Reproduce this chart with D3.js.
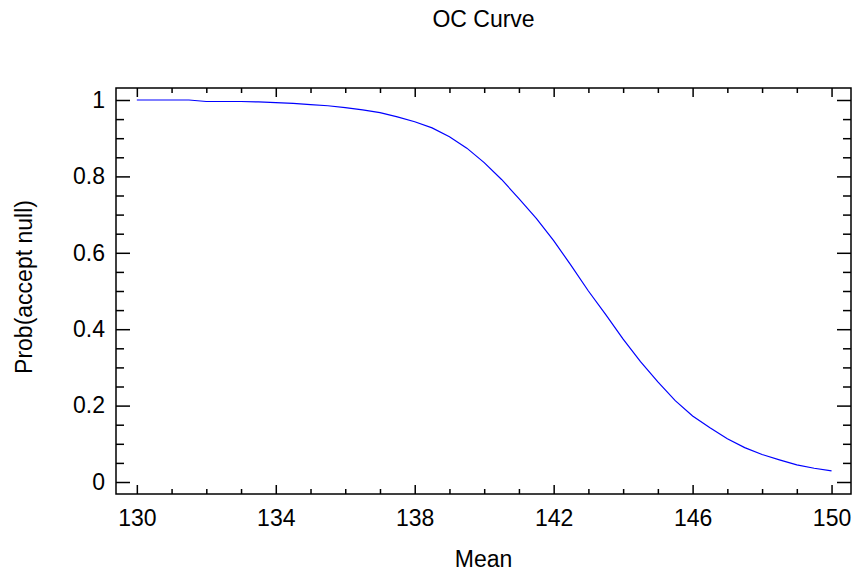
<!DOCTYPE html>
<html>
<head>
<meta charset="utf-8">
<script src="https://cdn.jsdelivr.net/npm/d3@7"></script>
<style>
  body { margin: 0; background: #fff; }
  text { font-family: "Liberation Sans", Arial, sans-serif; fill: #000; }
</style>
</head>
<body>
<div id="chart"></div>
<script>
// data
const means = [130, 130.5, 131, 131.5, 132, 132.5, 133, 133.5, 134, 134.5,
               135, 135.5, 136, 136.5, 137, 137.5, 138, 138.5, 139, 139.5,
               140, 140.5, 141, 141.5, 142, 142.5, 143, 143.5, 144, 144.5,
               145, 145.5, 146, 146.5, 147, 147.5, 148, 148.5, 149, 149.5, 150];
const probAccept = [1.000, 1.000, 1.000, 1.000, 0.996, 0.996, 0.996, 0.995, 0.993, 0.991,
                    0.988, 0.985, 0.980, 0.974, 0.967, 0.956, 0.943, 0.927, 0.904, 0.874,
                    0.836, 0.792, 0.742, 0.690, 0.632, 0.567, 0.500, 0.438, 0.374, 0.315,
                    0.262, 0.213, 0.173, 0.142, 0.113, 0.090, 0.072, 0.058, 0.045, 0.036, 0.029];
const xMajorTicks = [130, 134, 138, 142, 146, 150];
const yMajorTicks = [0, 0.2, 0.4, 0.6, 0.8, 1];

const width = 854, height = 571;
const plot = {left: 116, right: 851, top: 88, bottom: 494};

const svg = d3.select("#chart").append("svg")
  .attr("width", width)
  .attr("height", height);

const x = d3.scaleLinear().domain([129.4, 150.56]).range([plot.left, plot.right]);
const y = d3.scaleLinear().domain([-0.0314, 1.0314]).range([plot.bottom, plot.top]);

const xMinor = d3.range(130, 150.01, 1).filter(v => !xMajorTicks.includes(v));
const yMinor = d3.range(0, 1.001, 0.05).map(v => +v.toFixed(2)).filter(v => !yMajorTicks.includes(v));

function styleAxis(g) {
  g.select(".domain").remove();
  g.selectAll("line").attr("stroke", "#000").attr("stroke-width", 1.5);
  g.selectAll("text").attr("font-size", "23px").attr("fill", "#000")
    .attr("font-family", "Liberation Sans, Arial, sans-serif");
}

// bottom axis
svg.append("g").attr("transform", `translate(0,${plot.bottom})`)
  .call(d3.axisBottom(x).tickValues(xMajorTicks).tickSize(-9).tickPadding(15.5).tickFormat(d3.format("d")))
  .call(styleAxis);
svg.append("g").attr("transform", `translate(0,${plot.bottom})`)
  .call(d3.axisBottom(x).tickValues(xMinor).tickSize(-5).tickFormat(""))
  .call(styleAxis);
// top axis
svg.append("g").attr("transform", `translate(0,${plot.top})`)
  .call(d3.axisTop(x).tickValues(xMajorTicks).tickSize(-9).tickFormat(""))
  .call(styleAxis);
svg.append("g").attr("transform", `translate(0,${plot.top})`)
  .call(d3.axisTop(x).tickValues(xMinor).tickSize(-5).tickFormat(""))
  .call(styleAxis);
// left axis
svg.append("g").attr("transform", `translate(${plot.left},0)`)
  .call(d3.axisLeft(y).tickValues(yMajorTicks).tickSize(-14).tickPadding(11).tickFormat(d => d3.format("")(d)))
  .call(styleAxis);
svg.append("g").attr("transform", `translate(${plot.left},0)`)
  .call(d3.axisLeft(y).tickValues(yMinor).tickSize(-8).tickFormat(""))
  .call(styleAxis);
// right axis
svg.append("g").attr("transform", `translate(${plot.right},0)`)
  .call(d3.axisRight(y).tickValues(yMajorTicks).tickSize(-14).tickFormat(""))
  .call(styleAxis);
svg.append("g").attr("transform", `translate(${plot.right},0)`)
  .call(d3.axisRight(y).tickValues(yMinor).tickSize(-8).tickFormat(""))
  .call(styleAxis);

// frame
svg.append("rect")
  .attr("x", plot.left).attr("y", plot.top)
  .attr("width", plot.right - plot.left).attr("height", plot.bottom - plot.top)
  .attr("fill", "none").attr("stroke", "#000").attr("stroke-width", 1.5);

// curve
const line = d3.line()
  .x((d, i) => x(means[i]))
  .y(d => y(d));

svg.append("path")
  .datum(probAccept)
  .attr("d", line)
  .attr("fill", "none")
  .attr("stroke", "#0000ff")
  .attr("stroke-width", 1.2);

// titles
svg.append("text")
  .attr("x", (plot.left + plot.right) / 2).attr("y", 27)
  .attr("text-anchor", "middle").attr("font-size", "23px")
  .text("OC Curve");

svg.append("text")
  .attr("x", (plot.left + plot.right) / 2).attr("y", 567)
  .attr("text-anchor", "middle").attr("font-size", "23px")
  .text("Mean");

svg.append("text")
  .attr("transform", "translate(32,287) rotate(-90)")
  .attr("text-anchor", "middle").attr("font-size", "23px")
  .text("Prob(accept null)");
</script>
</body>
</html>
